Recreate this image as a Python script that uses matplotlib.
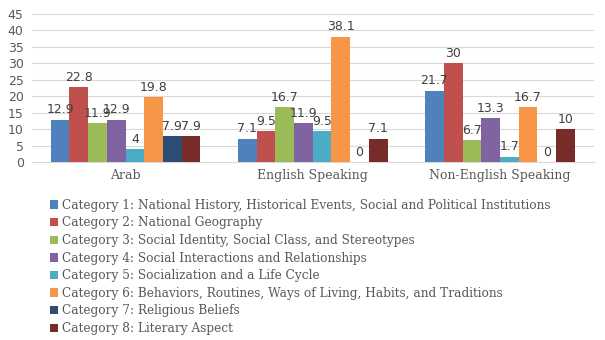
import matplotlib
matplotlib.use("Agg")
import matplotlib.pyplot as plt
import numpy as np

groups = ["Arab", "English Speaking", "Non-English Speaking"]
series_names = [
    "Category 1: National History, Historical Events, Social and Political Institutions",
    "Category 2: National Geography",
    "Category 3: Social Identity, Social Class, and Stereotypes",
    "Category 4: Social Interactions and Relationships",
    "Category 5: Socialization and a Life Cycle",
    "Category 6: Behaviors, Routines, Ways of Living, Habits, and Traditions",
    "Category 7: Religious Beliefs",
    "Category 8: Literary Aspect",
]
cat1 = [12.9, 7.1, 21.7]
cat2 = [22.8, 9.5, 30]
cat3 = [11.9, 16.7, 6.7]
cat4 = [12.9, 11.9, 13.3]
cat5 = [4, 9.5, 1.7]
cat6 = [19.8, 38.1, 16.7]
cat7 = [7.9, 0, 0]
cat8 = [7.9, 7.1, 10]
series = [cat1, cat2, cat3, cat4, cat5, cat6, cat7, cat8]
colors = ["#4F81BD", "#C0504D", "#9BBB59", "#8064A2", "#4BACC6", "#F79646", "#2C4D75", "#772C2A"]
yticks = [0, 5, 10, 15, 20, 25, 30, 35, 40, 45]

fig = plt.figure(figsize=(6.05, 3.4), dpi=100)
ax = fig.add_axes([0.053, 0.523, 0.928, 0.436])

x = np.arange(len(groups))
w = 0.1
n = len(series)
handles = []
for i, (vals, c, name) in enumerate(zip(series, colors, series_names)):
    pos = x + (i - (n - 1) / 2) * w
    b = ax.bar(pos, vals, width=w, color=c, label=name, zorder=3)
    handles.append(b)
    for p, v in zip(pos, vals):
        lab = ("%g" % v)
        ax.text(p, v + 1.0, lab, ha="center", va="bottom", fontsize=9,
                color="#404040", family="DejaVu Sans", zorder=4)

ax.set_xlim(-0.5, 2.5)
ax.set_ylim(0, 45)
ax.set_yticks(yticks)
ax.tick_params(axis="y", length=0, labelsize=9, labelcolor="#595959", pad=6)
ax.tick_params(axis="x", length=0, pad=5)
ax.set_xticks(x)
ax.set_xticklabels(groups, family="DejaVu Serif", fontsize=9, color="#595959")
for lbl in ax.get_yticklabels():
    lbl.set_family("DejaVu Sans")
ax.grid(axis="y", color="#D9D9D9", linewidth=0.8, zorder=0)
for s in ["top", "right", "left"]:
    ax.spines[s].set_visible(False)
ax.spines["bottom"].set_color("#D9D9D9")

fig.legend(handles=handles, labels=series_names, loc="upper left",
           bbox_to_anchor=(0.082, 0.415), frameon=False,
           prop={"family": "DejaVu Serif", "size": 8.7},
           labelcolor="#595959", handlelength=0.7, handleheight=0.7,
           handletextpad=0.3, labelspacing=0.38, borderpad=0, borderaxespad=0)

fig.savefig("out.png", dpi=100)
